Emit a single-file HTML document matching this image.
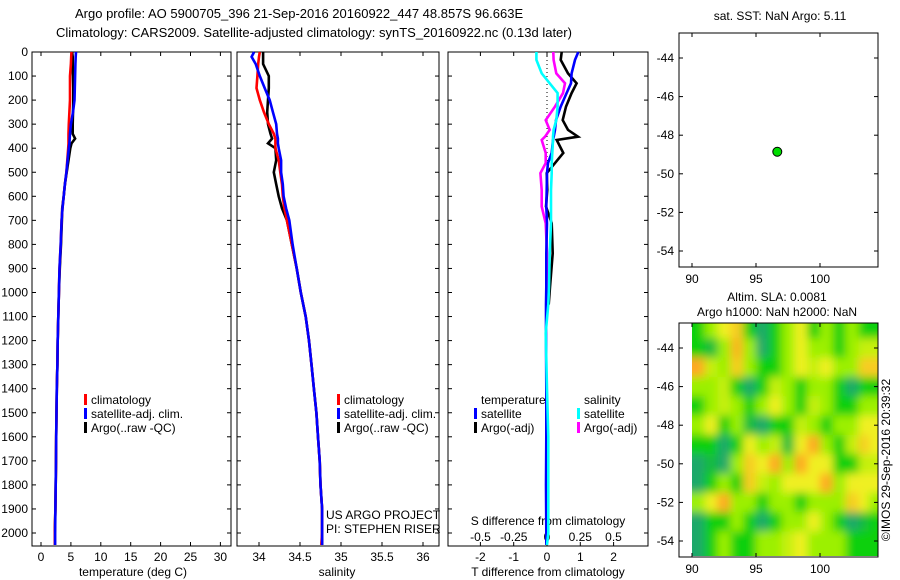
<!DOCTYPE html>
<html><head><meta charset="utf-8">
<style>
html,body{margin:0;padding:0;background:#fff;}
svg{display:block;font-family:"Liberation Sans",sans-serif;}
text{font-size:12px;fill:#000;}
</style></head>
<body>
<svg id="fig" width="900" height="580" viewBox="0 0 900 580">
<defs>
<filter id="blur" x="-5%" y="-5%" width="110%" height="110%"><feGaussianBlur stdDeviation="4.5"/></filter>
<clipPath id="hmclip"><rect x="692" y="323" width="186" height="233"/></clipPath>
</defs>
<text x="75" y="18" style="font-size:13px">Argo profile: AO 5900705_396 21-Sep-2016 20160922_447 48.857S 96.663E</text>
<text x="56" y="37" style="font-size:13px">Climatology: CARS2009. Satellite-adjusted climatology: synTS_20160922.nc (0.13d later)</text>
<text x="780" y="20" text-anchor="middle">sat. SST: NaN Argo: 5.11</text>
<text x="777" y="301" text-anchor="middle">Altim. SLA: 0.0081</text>
<text x="777" y="316" text-anchor="middle">Argo h1000: NaN h2000: NaN</text>
<text transform="translate(890,460) rotate(-90)" text-anchor="middle">©IMOS 29-Sep-2016 20:39:32</text>
<g id="g"></g>
</svg>
<script>
const depths=[0,20,50,100,150,200,250,300,340,360,380,400,450,500,550,600,650,700,800,900,1000,1100,1200,1300,1400,1500,1600,1700,1800,1900,2000,2050];
const tempClim=[5.1,5.05,5.0,4.85,4.85,4.85,4.75,4.65,4.6,4.6,4.6,4.55,4.4,4.25,4.0,3.8,3.6,3.45,3.3,3.1,3.0,2.9,2.8,2.75,2.65,2.6,2.55,2.5,2.45,2.4,2.3,2.3];
const tempSat=[5.85,5.8,5.75,5.7,5.65,5.6,5.35,5.0,4.85,4.8,4.75,4.65,4.45,4.25,4.0,3.8,3.6,3.45,3.3,3.1,3.0,2.9,2.8,2.75,2.65,2.6,2.55,2.5,2.45,2.4,2.35,2.35];
const tempArgo=[5.2,5.3,5.3,5.35,5.4,5.4,5.35,5.3,5.3,5.7,5.1,4.9,4.6,4.3,4.0,3.8,3.55,3.5,3.35,3.15,3.0,2.9,2.8,2.75,2.65,2.6,2.55,2.5,2.45,2.4,2.3,2.3];
const salClim=[34.01,34.0,33.99,33.98,33.97,34.01,34.06,34.12,34.18,34.2,34.2,34.2,34.24,34.26,34.28,34.29,34.31,34.34,34.4,34.46,34.51,34.57,34.61,34.64,34.67,34.70,34.72,34.74,34.75,34.77,34.77,34.76];
const salSat=[33.94,33.91,33.96,34.01,34.07,34.13,34.17,34.21,34.22,34.23,34.23,34.24,34.27,34.27,34.29,34.3,34.33,34.37,34.41,34.46,34.51,34.57,34.61,34.64,34.67,34.70,34.72,34.74,34.75,34.77,34.77,34.77];
const salArgo=[34.05,34.05,34.05,34.12,34.12,34.11,34.1,34.11,34.14,34.16,34.11,34.2,34.21,34.18,34.21,34.24,34.28,34.34,34.4,34.46,34.51,34.57,34.61,34.64,34.67,34.70,34.72,34.74,34.75,34.77,34.77,34.77];
const diffDepths=[0,33,89,130,171,227,283,324,352,366,420,462,504,574,643,712,837,977,1050,1169,1400,1600,1800,2000,2050];
const dTSat=[0.94,0.84,0.74,0.72,0.59,0.41,0.27,0.24,0.2,0.18,0.14,0.03,0.0,-0.01,-0.02,0.0,-0.02,-0.02,-0.03,-0.03,-0.02,-0.02,-0.03,-0.02,-0.02];
const dTArgo=[0.44,0.41,0.63,0.89,0.74,0.57,0.47,0.63,0.93,0.29,0.49,0.24,-0.01,0.01,-0.03,0.14,0.17,0.09,0.05];
const dSSat=[-0.08,-0.08,-0.04,0.02,0.08,0.08,0.07,0.05,0.045,0.045,0.04,0.035,0.035,0.03,0.03,0.03,0.02,0.015,0.01,-0.01,0.0,0.01,0.01,0.01,0.0];
const dSArgo=[0.047,0.05,0.07,0.135,0.12,0.06,-0.01,0.02,-0.015,-0.04,-0.01,-0.01,-0.05,-0.04,-0.04,-0.01,0.0,0.0,0.0];
const depthTicks=[0,100,200,300,400,500,600,700,800,900,1000,1100,1200,1300,1400,1500,1600,1700,1800,1900,2000];
const tempTicks=[0,5,10,15,20,25,30];
const salTicks=[34,34.5,35,35.5,36];
const salTickLabels=["34","34.5","35","35.5","36"];
const dTTicks=[-2,-1,0,1,2];
const dSTicks=[-0.5,-0.25,0,0.25,0.5];
const dSTickLabels=["-0.5","-0.25","0","0.25","0.5"];
const floatLon=[96.663], floatLat=[-48.857];
const latTicks=[-44,-46,-48,-50,-52,-54];
const lonTicks=[90,95,100];
const slaLats=[-43,-44,-45,-46,-47,-48,-49,-50,-51,-52,-53,-54,-54.8];
const slaLons=[90.5,91.5,92.5,93.5,94.5,95.5,96.5,97.5,98.5,99.5,100.5,101.5,102.5,103.5,104.3];
const slaValues=[
[-1,0,1,1.5,-1,-2,-1,0,1,-1,0,-1,0,-1,-1],
[-1,-1.5,0,1.8,0,-2,-1,0,1,0,0,-1,0,0.5,0.5],
[2,0.5,0,1.5,0,-1,-1,0,1,0.5,1,0,0,1.5,1.5],
[0,0,0.5,-1,-2,-1,0.5,0,-1,0,0,-1,-2,-1,-1],
[-1,0,0.5,0,-1,0,1,0,-1,0.5,0,-1,-1,0,0],
[0,1,-1,0,-1.5,-2,-1,-1,0.5,0,-1,0,0,1,1],
[-1,-1,-2,-1,1,0,0.5,-1.5,1,2,0,-1,0.5,1.5,1],
[-2,-1.5,-2,0,1.5,1,2,0,2,1,1,-1,-1,0.5,0.5],
[-2,-1,0,-1,1.5,0.5,0,1,1,1,2,0,1,1,1],
[0,1,2,0,0,-1,0,0,-1,0,0,0,1.5,1,0],
[-2,-1,-1,0,-1,-2,-1,0,0,1,0,-1,-2,-1.5,-1],
[-2,-1,0,-1,-1,0,0,0.5,1,0,0,0,-1,-1,-1],
[-2,-1,0,-1,-1,0,0,0.5,1,0,0,0,-1,-1,-1]];

const NS="http://www.w3.org/2000/svg";
const G=document.getElementById('g');
function mk(tag,attrs,parent){const e=document.createElementNS(NS,tag);for(const k in attrs)e.setAttribute(k,attrs[k]);(parent||G).appendChild(e);return e;}
function txt(x,y,s,anchor,parent){const t=mk('text',{x:x,y:y,'text-anchor':anchor||'start'},parent);t.textContent=s;return t;}

const yD=d=>52+0.2405*d;
const PT=0,PB=546;
const xT=v=>41+5.98*v;
const xS=v=>259+82*(v-34);
const xDT=v=>547+33.3*v;
const xDS=v=>547+133*v;

function frame(x0,x1,name){
  const r=mk('rect',{x:x0,y:PT+52,width:x1-x0,height:PB-52,fill:'none',stroke:'#000','stroke-width':1});
  
  
  depthTicks.forEach(d=>{mk('line',{x1:x0,x2:x0+4,y1:yD(d),y2:yD(d),stroke:'#000'});mk('line',{x1:x1,x2:x1-4,y1:yD(d),y2:yD(d),stroke:'#000'});});
}
function line(xs,ds,sx,color,name,w){
  const pts=xs.map((v,i)=>sx(v).toFixed(1)+','+yD(ds[i]).toFixed(1)).join(' ');
  const p=mk('polyline',{points:pts,fill:'none',stroke:color,'stroke-width':w||2.6,'stroke-linejoin':'miter'});
  
  
}
function legend(x,y,color,label,name){
  const g=mk('g',{});
  
  
  if(color) mk('rect',{x:x,y:y-10,width:3,height:11,fill:color},g);
  txt(x+7,y,label,'start',g);
}
function xticks(ticks,labels,sx,y){
  ticks.forEach((v,i)=>{mk('line',{x1:sx(v),x2:sx(v),y1:52,y2:56,stroke:'#000'});mk('line',{x1:sx(v),x2:sx(v),y1:PB,y2:PB-4,stroke:'#000'});
    const t=txt(sx(v),y,labels[i],'middle');});
}

frame(32,231,'temperature-panel');
depthTicks.forEach(d=>{const t=txt(28,yD(d)+4,String(d),'end');});
xticks(tempTicks,tempTicks.map(String),xT,561);
txt(133,576,'temperature (deg C)','middle');
line(tempArgo,depths,xT,'#000','temp-argo-line');
line(tempClim,depths,xT,'#f00','temp-climatology-line');
line(tempSat,depths,xT,'#00f','temp-satellite-line');
legend(84,404,'#f00','climatology','legend-climatology');
legend(84,418,'#00f','satellite-adj. clim.','legend-satellite');
legend(84,432,'#000','Argo(..raw -QC)','legend-argo');

frame(237,439,'salinity-panel');
xticks(salTicks,salTickLabels,xS,561);
txt(337,576,'salinity','middle');
line(salArgo,depths,xS,'#000','sal-argo-line');
line(salClim,depths,xS,'#f00','sal-climatology-line');
line(salSat,depths,xS,'#00f','sal-satellite-line');
legend(337,404,'#f00','climatology','legend-climatology-sal');
legend(337,418,'#00f','satellite-adj. clim.','legend-satellite-sal');
legend(337,432,'#000','Argo(..raw -QC)','legend-argo-sal');
txt(326,519,'US ARGO PROJECT');
txt(326,533,'PI: STEPHEN RISER');

frame(448,648,'difference-panel');
xticks(dTTicks,dTTicks.map(String),xDT,561);
dSTicks.forEach((v,i)=>{const t=txt(xDS(v),541,dSTickLabels[i],'middle');});
txt(548,525,'S difference from climatology','middle');
txt(548,576,'T difference from climatology','middle');
mk('line',{x1:xDT(0),x2:xDT(0),y1:yD(0),y2:yD(1000),stroke:'#000','stroke-dasharray':'1,3'});
line(dTArgo,diffDepths.slice(0,dTArgo.length),xDT,'#000','dT-argo-line');
line(dSArgo,diffDepths.slice(0,dSArgo.length),xDS,'#f0f','dS-argo-line');
line(dTSat,diffDepths,xDT,'#00f','dT-satellite-line');
line(dSSat,diffDepths,xDS,'#0ff','dS-satellite-line');
legend(474,404,null,'temperature','legend-temperature-header');
legend(577,404,null,'salinity','legend-salinity-header');
legend(474,418,'#00f','satellite','legend-dT-satellite');
legend(474,432,'#000','Argo(-adj)','legend-dT-argo');
legend(577,418,'#0ff','satellite','legend-dS-satellite');
legend(577,432,'#f0f','Argo(-adj)','legend-dS-argo');

const lonX=v=>692+12.8*(v-90);
function latY(v,off){return off+58+19.3*(-44-v);}
function mapFrame(off,name){
  const r=mk('rect',{x:679,y:off+33,width:199,height:234,fill:'none',stroke:'#000'});
  
  
  latTicks.forEach(v=>{const y=latY(v,off);mk('line',{x1:679,x2:683,y1:y,y2:y,stroke:'#000'});mk('line',{x1:878,x2:874,y1:y,y2:y,stroke:'#000'});
    const t=txt(674,y+4,String(v),'end');});
  lonTicks.forEach(v=>{const x=lonX(v);mk('line',{x1:x,x2:x,y1:off+33,y2:off+37,stroke:'#000'});mk('line',{x1:x,x2:x,y1:off+267,y2:off+263,stroke:'#000'});
    const t=txt(x,off+283,String(v),'middle');});
}
const stops=[[-2,[26,168,106]],[-1,[16,208,16]],[0,[156,240,0]],[1,[240,240,32]],[2,[255,168,32]]];
function col(v){v=Math.max(-2,Math.min(2,v));for(let i=0;i<4;i++){const a=stops[i],b=stops[i+1];if(v<=b[0]){const f=(v-a[0])/(b[0]-a[0]);return 'rgb('+a[1].map((c,k)=>Math.round(c+(b[1][k]-c)*f)).join(',')+')';}}}
const hmOuter=mk('g',{'clip-path':'url(#hmclip)'});


const hm=mk('g',{filter:'url(#blur)'},hmOuter);
slaLats.forEach((la,i)=>{slaLons.forEach((lo,j)=>{
  let x0=lonX(lo-0.5),x1=lonX(lo+0.5),y0=latY(la+0.5,290),y1=latY(la-0.5,290);
  if(j===0)x0-=20; if(j===slaLons.length-1)x1+=20; if(i===0)y0-=20; if(i===slaLats.length-1)y1+=20;
  const r=mk('rect',{x:x0,y:y0,width:x1-x0+0.5,height:y1-y0+0.5,fill:col(slaValues[i][j])},hm);
  
  
});});
mapFrame(0,'position-map');
mapFrame(290,'sla-map');
floatLon.forEach((lo,i)=>{const c=mk('circle',{cx:lonX(lo),cy:latY(floatLat[i],0),r:4.5,fill:'#00dd00',stroke:'#000','stroke-width':1});
  
  });
</script>
</body></html>
